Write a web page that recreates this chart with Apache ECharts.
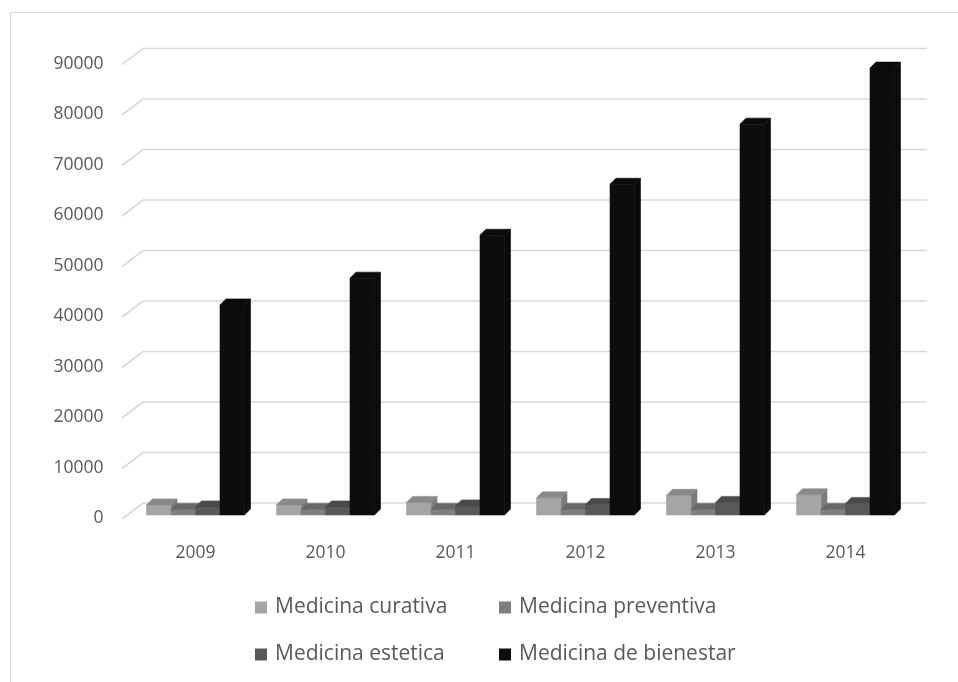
<!DOCTYPE html>
<html>
<head>
<meta charset="utf-8">
<script src="https://cdn.jsdelivr.net/npm/echarts@6/dist/echarts.min.js"></script>
<style>
  html, body { margin: 0; padding: 0; background: #ffffff; }
  #chart { width: 958px; height: 682px; }
</style>
</head>
<body>
<div id="chart"></div>
<script>
// Years on the category axis
const years = ['2009', '2010', '2011', '2012', '2013', '2014'];

// Series names and values
const seriesNames = ['Medicina curativa', 'Medicina preventiva', 'Medicina estetica', 'Medicina de bienestar'];
const curativa   = [2000, 2000, 2500, 3400, 3900, 4000];
const preventiva = [1100, 1100, 1100, 1100, 1100, 1100];
const estetica   = [1600, 1600, 1800, 2100, 2500, 2300];
const bienestar  = [41600, 46900, 55400, 65500, 77400, 88500];

// Value-axis ticks
const valueTicks = [0, 10000, 20000, 30000, 40000, 50000, 60000, 70000, 80000, 90000];

const seriesValues = [curativa, preventiva, estetica, bienestar];
const seriesColors = ['#a5a5a5', '#7f7f7f', '#595959', '#0d0d0d'];

// Pseudo-3D column geometry (pixels)
const BAR_W = 24.5;
const DEPTH_X = 6;
const DEPTH_Y = 6;
// Back wall offset relative to the bar plane
const WALL_DX = 12.5;
const WALL_DY = 12;

function shade(hex, k) {
  const n = parseInt(hex.slice(1), 16);
  const r = Math.round(((n >> 16) & 255) * k);
  const g = Math.round(((n >> 8) & 255) * k);
  const b = Math.round((n & 255) * k);
  return 'rgb(' + r + ',' + g + ',' + b + ')';
}

function face(type, shape, color) {
  return { type: type, shape: shape, style: { fill: color, stroke: color, lineWidth: 0.6 } };
}

function barRenderer(si) {
  return function (params, api) {
    const cat = api.value(0);
    const val = api.value(1);
    const topPt = api.coord([cat, val]);
    const basePt = api.coord([cat, 0]);
    const x0 = topPt[0] - 2 * BAR_W + si * BAR_W;
    const x1 = x0 + BAR_W;
    const yT = topPt[1];
    const yB = basePt[1];
    const c = seriesColors[si];
    return {
      type: 'group',
      children: [
        face('polygon', { points: [[x1, yT], [x1 + DEPTH_X, yT - DEPTH_Y], [x1 + DEPTH_X, yB - DEPTH_Y], [x1, yB]] }, shade(c, 0.75)),
        face('rect', { x: x0, y: yT, width: BAR_W, height: yB - yT }, c),
        face('polygon', { points: [[x0, yT], [x0 + DEPTH_X, yT - DEPTH_Y], [x1 + DEPTH_X, yT - DEPTH_Y], [x1, yT]] }, shade(c, 0.83))
      ]
    };
  };
}

// Back-wall gridlines with the short side-wall diagonal on the left
function wallRenderer(params, api) {
  const cs = params.coordSys;
  const y = api.coord([0, api.value(1)])[1] - WALL_DY;
  return {
    type: 'polyline',
    shape: { points: [[cs.x - 8.5, y + 16], [cs.x + WALL_DX, y], [cs.x + cs.width + 16.5, y]] },
    style: { stroke: '#d9d9d9', lineWidth: 1.6, fill: null }
  };
}

const chart = echarts.init(document.getElementById('chart'), null, { renderer: 'canvas' });

const series = [{
  type: 'custom',
  name: 'wall',
  silent: true,
  z: 1,
  renderItem: wallRenderer,
  data: valueTicks.map(v => [0, v])
}];

seriesNames.forEach((name, si) => {
  series.push({
    type: 'custom',
    name: name,
    z: 2 + si,
    itemStyle: { color: seriesColors[si] },
    renderItem: barRenderer(si),
    data: seriesValues[si].map((v, i) => [i, v])
  });
});

const legendText = { color: '#595959', fontSize: 21, fontFamily: 'Open Sans', padding: [0, 0, 0, 3] };
const legendPos = [[255, 597], [499, 597], [255, 644], [499, 644]];

chart.setOption({
  animation: false,
  backgroundColor: '#ffffff',
  graphic: [{
    type: 'rect',
    silent: true,
    shape: { x: 10.5, y: 12.5, width: 1000, height: 700 },
    style: { fill: null, stroke: '#d9d9d9', lineWidth: 1 }
  }],
  grid: { left: 130.5, right: 47.5, top: 60.5, bottom: 167 },
  legend: seriesNames.map((name, i) => ({
    data: [name],
    left: legendPos[i][0],
    top: legendPos[i][1],
    padding: 0,
    icon: 'rect',
    itemWidth: 12,
    itemHeight: 12,
    textStyle: legendText,
    selectedMode: false
  })),
  xAxis: {
    type: 'category',
    data: years,
    axisLine: { show: false },
    axisTick: { show: false },
    splitLine: { show: false },
    axisLabel: { color: '#595959', fontSize: 17.5, fontFamily: 'Open Sans', margin: 29 }
  },
  yAxis: {
    type: 'value',
    min: 0,
    max: 90000,
    interval: 10000,
    axisLine: { show: false },
    axisTick: { show: false },
    splitLine: { show: false },
    axisLabel: {
      margin: 27,
      formatter: v => '{t|' + v + '}',
      rich: {
        t: { color: '#595959', fontSize: 17.5, fontFamily: 'Open Sans', padding: [7, 0, 0, 0] }
      }
    }
  },
  series: series
});
</script>
</body>
</html>
